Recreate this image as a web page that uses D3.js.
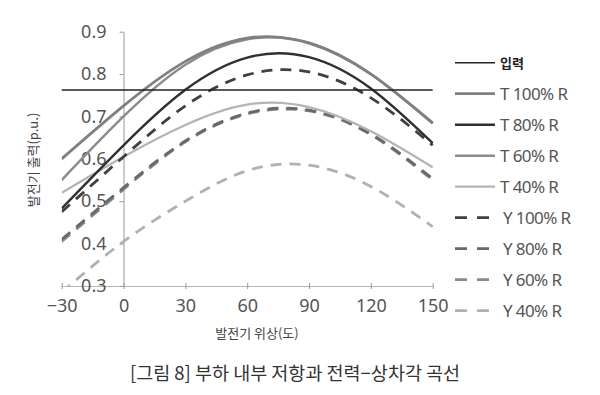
<!DOCTYPE html>
<html>
<head>
<meta charset="utf-8">
<script src="https://cdn.jsdelivr.net/npm/d3@7"></script>
<style>
  body { margin: 0; background: #fff; }
  svg { display: block; }
</style>
</head>
<body>
<div id="chart"></div>
<script>
// phase angles (degrees) where the curves were read
const angles = [-30, 0, 30, 60, 90, 120, 150];

// generator output (p.u.) per series
const t100 = [0.600, 0.725, 0.830, 0.885, 0.873, 0.800, 0.685];
const t80  = [0.483, 0.632, 0.763, 0.839, 0.840, 0.766, 0.637];
const t60  = [0.550, 0.700, 0.822, 0.882, 0.874, 0.800, 0.683];
const t40  = [0.520, 0.605, 0.680, 0.728, 0.722, 0.665, 0.580];
const y100 = [0.475, 0.605, 0.725, 0.798, 0.805, 0.744, 0.632];
const y80  = [0.410, 0.532, 0.642, 0.708, 0.715, 0.659, 0.553];
const y60  = [0.405, 0.528, 0.640, 0.706, 0.713, 0.657, 0.550];
const y40  = [0.285, 0.405, 0.500, 0.572, 0.585, 0.535, 0.440];

// input power (horizontal line)
const inputPower = 0.7625;

const xTicks = [-30, 0, 30, 60, 90, 120, 150];
const yTicks = [0.3, 0.4, 0.5, 0.6, 0.7, 0.8, 0.9];

const seriesNames = ["T 100% R", "T 80% R", "T 60% R", "T 40% R",
                     "Y 100% R", "Y 80% R", "Y 60% R", "Y 40% R"];
const seriesValues = [t100, t80, t60, t40, y100, y80, y60, y40];

function init() {
  var W = 600, H = 395;
  var svg = d3.select("#chart").append("svg").attr("width", W).attr("height", H);

  var x = d3.scaleLinear().domain([-30, 150]).range([61.7, 432.7]);
  var y = d3.scaleLinear().domain([0.3, 0.9]).range([286, 31.7]);

  // styles for each series (solid T, dashed Y)
  var styles = [
    { color: "#808080", width: 2.8, dash: null },
    { color: "#303030", width: 2.4, dash: null },
    { color: "#8c8c8c", width: 2.5, dash: null },
    { color: "#b4b4b4", width: 2.3, dash: null },
    { color: "#404040", width: 2.8, dash: "11,8" },
    { color: "#686868", width: 2.8, dash: "11,8" },
    { color: "#8a8a8a", width: 2.8, dash: "11,8" },
    { color: "#b0b0b0", width: 2.8, dash: "11,8" }
  ];

  var series = seriesNames.map(function (name, i) {
    return {
      name: name,
      style: styles[i],
      points: angles.map(function (a, j) { return { a: a, v: seriesValues[i][j] }; })
    };
  });

  // clip to the plot area
  svg.append("clipPath").attr("id", "plot")
    .append("rect")
    .attr("x", x(-30)).attr("y", y(0.9) - 4)
    .attr("width", x(150) - x(-30) + 2).attr("height", y(0.3) - y(0.9) + 4);

  // x axis
  var xAxis = svg.append("g")
    .attr("transform", "translate(0," + y(0.3) + ")")
    .call(d3.axisBottom(x).tickValues(xTicks).tickSizeInner(3).tickSizeOuter(0).tickPadding(10)
      .tickFormat(function (d) { return d < 0 ? "\u2212" + Math.abs(d) : d; }));
  xAxis.select(".domain").attr("stroke", "#b5b5b5");
  xAxis.selectAll(".tick line").attr("y1", -3).attr("stroke", "#999");
  xAxis.selectAll("text")
    .attr("fill", "#555").style("font-family", "'Noto Sans', sans-serif").style("font-size", "18px");

  // y axis drawn at 0 degrees
  var yAxis = svg.append("g")
    .attr("transform", "translate(" + x(0) + ",0)")
    .call(d3.axisLeft(y).tickValues(yTicks).tickSizeInner(4).tickSizeOuter(0).tickPadding(13)
      .tickFormat(d3.format(".1f")));
  yAxis.select(".domain").attr("stroke", "#9a9a9a");
  yAxis.selectAll(".tick line").attr("stroke", "#999");
  yAxis.selectAll("text")
    .attr("fill", "#555").style("font-family", "'Noto Sans', sans-serif").style("font-size", "18px");

  // curves
  var line = d3.line()
    .x(function (d) { return x(d.a); })
    .y(function (d) { return y(d.v); })
    .curve(d3.curveNatural);

  var drawOrder = [7, 6, 5, 3, 4, 2, 0, 1];
  var g = svg.append("g").attr("clip-path", "url(#plot)");
  drawOrder.forEach(function (i) {
    var s = series[i];
    g.append("path")
      .attr("d", line(s.points))
      .attr("fill", "none")
      .attr("stroke", s.style.color)
      .attr("stroke-width", s.style.width)
      .attr("stroke-dasharray", s.style.dash);
  });

  // input power line
  svg.append("line")
    .attr("x1", x(-30)).attr("x2", x(150))
    .attr("y1", y(inputPower)).attr("y2", y(inputPower))
    .attr("stroke", "#222").attr("stroke-width", 1.6);

  // legend
  var legendItems = [{ name: "입력", style: { color: "#222", width: 1.6, dash: null } }].concat(series);
  var legend = svg.append("g");
  legendItems.forEach(function (d, i) {
    var ly = 62.7 + i * 31;
    legend.append("line")
      .attr("x1", 455).attr("x2", d.style.dash ? 489 : 495)
      .attr("y1", ly).attr("y2", ly)
      .attr("stroke", d.style.color)
      .attr("stroke-width", i === 0 ? 1.6 : d.style.width)
      .attr("stroke-dasharray", d.style.dash ? "12,10" : null);
    var t = legend.append("text")
      .attr("x", d.style.dash ? 503 : 500).attr("y", ly)
      .attr("dominant-baseline", "central")
      .text(d.name);
    if (i === 0) {
      t.attr("fill", "#222").style("font-family", "'Noto Sans CJK KR', sans-serif")
        .style("font-size", "13px").style("font-weight", "bold");
    } else {
      t.attr("fill", "#555").style("font-family", "'Noto Sans', sans-serif")
        .style("font-size", "17px").style("letter-spacing", "-0.6px");
    }
  });

  // axis titles
  svg.append("text")
    .attr("x", 257).attr("y", 332)
    .attr("text-anchor", "middle").attr("dominant-baseline", "central")
    .attr("fill", "#444")
    .style("font-family", "'Noto Sans CJK KR', sans-serif").style("font-size", "13px")
    .text("발전기 위상(도)");

  svg.append("text")
    .attr("transform", "translate(32,160) rotate(-90)")
    .attr("text-anchor", "middle").attr("dominant-baseline", "central")
    .attr("fill", "#444")
    .style("font-family", "'Noto Sans CJK KR', sans-serif").style("font-size", "13px")
    .text("발전기 출력(p.u.)");

  // caption
  svg.append("text")
    .attr("x", 295).attr("y", 372)
    .attr("text-anchor", "middle").attr("dominant-baseline", "central")
    .attr("fill", "#333")
    .style("font-family", "'Noto Sans CJK KR', sans-serif").style("font-size", "18.5px")
    .text("[그림 8] 부하 내부 저항과 전력−상차각 곡선");
}

window.onload = init;
</script>
</body>
</html>
